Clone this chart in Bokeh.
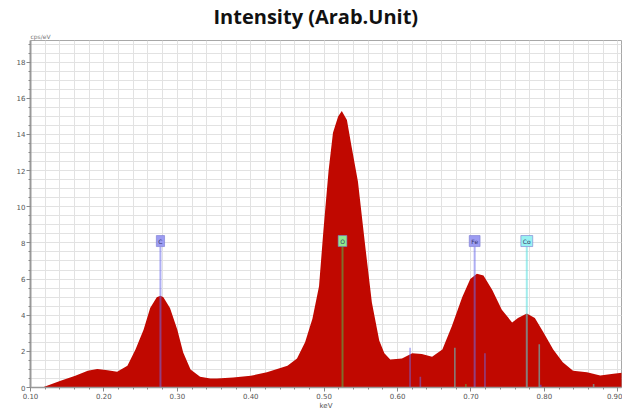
import numpy as np
from bokeh.plotting import figure
from bokeh.models import (ColumnDataSource, FixedTicker, PrintfTickFormatter, Label, Title)
from bokeh.embed import file_html
from bokeh.resources import INLINE

# ---- data ----
energy_kev = [0.116, 0.141, 0.161, 0.178, 0.191, 0.205, 0.218, 0.232, 0.243, 0.254,
              0.263, 0.272, 0.277, 0.281, 0.290, 0.300, 0.308, 0.318, 0.331, 0.345,
              0.354, 0.376, 0.400, 0.422, 0.450, 0.463, 0.474, 0.484, 0.493, 0.499,
              0.506, 0.512, 0.519, 0.524, 0.531, 0.537, 0.546, 0.556, 0.565, 0.575,
              0.582, 0.590, 0.606, 0.620, 0.633, 0.647, 0.661, 0.674, 0.688, 0.699,
              0.708, 0.717, 0.729, 0.742, 0.756, 0.764, 0.776, 0.787, 0.798, 0.812,
              0.825, 0.839, 0.858, 0.876, 0.894, 0.910]
intensity = [0.0, 0.38, 0.65, 0.93, 1.02, 0.95, 0.87, 1.2, 2.1, 3.2,
             4.4, 5.0, 5.08, 5.0, 4.4, 3.2, 1.93, 1.0, 0.6, 0.5,
             0.5, 0.56, 0.65, 0.84, 1.2, 1.6, 2.5, 3.8, 5.6, 8.7,
             12.0, 14.1, 15.0, 15.3, 14.8, 13.4, 11.4, 7.8, 4.7, 2.6,
             1.9, 1.55, 1.6, 1.9, 1.85, 1.7, 2.1, 3.4, 5.0, 6.0,
             6.3, 6.2, 5.4, 4.3, 3.6, 3.85, 4.1, 3.85, 3.1, 2.1,
             1.4, 0.93, 0.84, 0.66, 0.76, 0.84]

element_names = ["C", "O", "Fe", "Co"]
element_kev = [0.277, 0.525, 0.705, 0.776]
element_marker_height = [7.8, 7.8, 7.8, 7.8]
element_line_colors = ["#6b6bea", "#4cbf4c", "#6b6bea", "#55dede"]
element_box_colors = ["#9c9cf2", "#8ee88e", "#9c9cf2", "#98f2f2"]

minor_kev = [0.617, 0.631, 0.678, 0.693, 0.719, 0.793, 0.795, 0.867]
minor_height = [2.2, 0.6, 2.2, 0.2, 1.9, 2.4, 0.15, 0.2]
minor_colors = ["#6b6bea", "#6b6bea", "#55dede", "#4cbf4c", "#6b6bea", "#55dede", "#5a5aff", "#55dede"]

x_ticks = [0.10, 0.20, 0.30, 0.40, 0.50, 0.60, 0.70, 0.80, 0.90]
y_ticks = [0, 2, 4, 6, 8, 10, 12, 14, 16, 18]

# ---- figure ----
p = figure(width=622, height=412, output_backend="svg", toolbar_location=None,
           x_range=(0.10, 0.905), y_range=(0, 19.2),
           min_border_left=30, min_border_right=1, min_border_bottom=20, min_border_top=4)
p.title = Title(text="Intensity (Arab.Unit)", align="left", offset=183,
                text_font="Open Sans", text_font_size="20px", text_font_style="bold",
                text_color="#111111", standoff=1)
p.add_layout(Title(text="cps/eV", align="left", text_font="DejaVu Sans",
                   text_font_size="6px", text_font_style="normal",
                   text_color="#777777", standoff=1), "above")
p.background_fill_color = "white"
p.border_fill_color = "white"
p.outline_line_color = "#a8a8a8"

src = ColumnDataSource(dict(x=energy_kev, y=intensity))
p.varea(x="x", y1=0, y2="y", source=src, fill_color="#c00800")

# minor element lines
msrc = ColumnDataSource(dict(x=minor_kev, h=minor_height, c=minor_colors,
                             z=[0] * len(minor_kev)))
p.segment(x0="x", y0="z", x1="x", y1="h", source=msrc, line_color="c",
          line_alpha=0.55, line_width=1.6)

# main element lines
esrc = ColumnDataSource(dict(x=element_kev, h=element_marker_height,
                             c=element_line_colors, z=[0] * len(element_kev)))
p.segment(x0="x", y0="z", x1="x", y1="h", source=esrc, line_color="c",
          line_alpha=0.55, line_width=2)

for name, xk, hh, bc in zip(element_names, element_kev, element_marker_height, element_box_colors):
    p.add_layout(Label(x=xk, y=hh, text=name, text_align="center", text_baseline="bottom",
                       text_font="DejaVu Sans", text_font_size="6px", text_color="#333366",
                       background_fill_color=bc, border_line_color="#7a7ad0",
                       border_line_alpha=0.6, padding=2, y_offset=0))

# axes
for ax in (p.xaxis[0], p.yaxis[0]):
    ax.axis_line_color = "#999999"
    ax.major_tick_line_color = "#888888"
    ax.minor_tick_line_color = "#888888"
    ax.major_tick_out = 4
    ax.major_tick_in = 0
    ax.minor_tick_out = 2
    ax.minor_tick_in = 0
    ax.major_label_text_font = "DejaVu Sans"
    ax.major_label_text_font_size = "7px"
    ax.major_label_text_color = "#555555"
    ax.major_label_standoff = 1

p.yaxis[0].axis_line_width = 2
p.xaxis[0].axis_line_width = 1.5

p.xaxis[0].ticker = FixedTicker(ticks=x_ticks,
                                minor_ticks=[round(0.10 + 0.02 * i, 2) for i in range(41)])
p.xaxis[0].formatter = PrintfTickFormatter(format="%.2f")
p.xaxis[0].axis_label = "keV"
p.xaxis[0].axis_label_text_font = "DejaVu Sans"
p.xaxis[0].axis_label_text_font_size = "7px"
p.xaxis[0].axis_label_text_font_style = "normal"
p.xaxis[0].axis_label_text_color = "#555555"
p.xaxis[0].axis_label_standoff = 0

p.yaxis[0].ticker = FixedTicker(ticks=y_ticks,
                                minor_ticks=[0.5 * i for i in range(39)])

p.xgrid[0].grid_line_color = "#e2e2e2"
p.xgrid[0].minor_grid_line_color = "#e2e2e2"
p.ygrid[0].grid_line_color = "#e2e2e2"
p.ygrid[0].minor_grid_line_color = "#e2e2e2"

open("out.html", "w").write(file_html(p, INLINE))
